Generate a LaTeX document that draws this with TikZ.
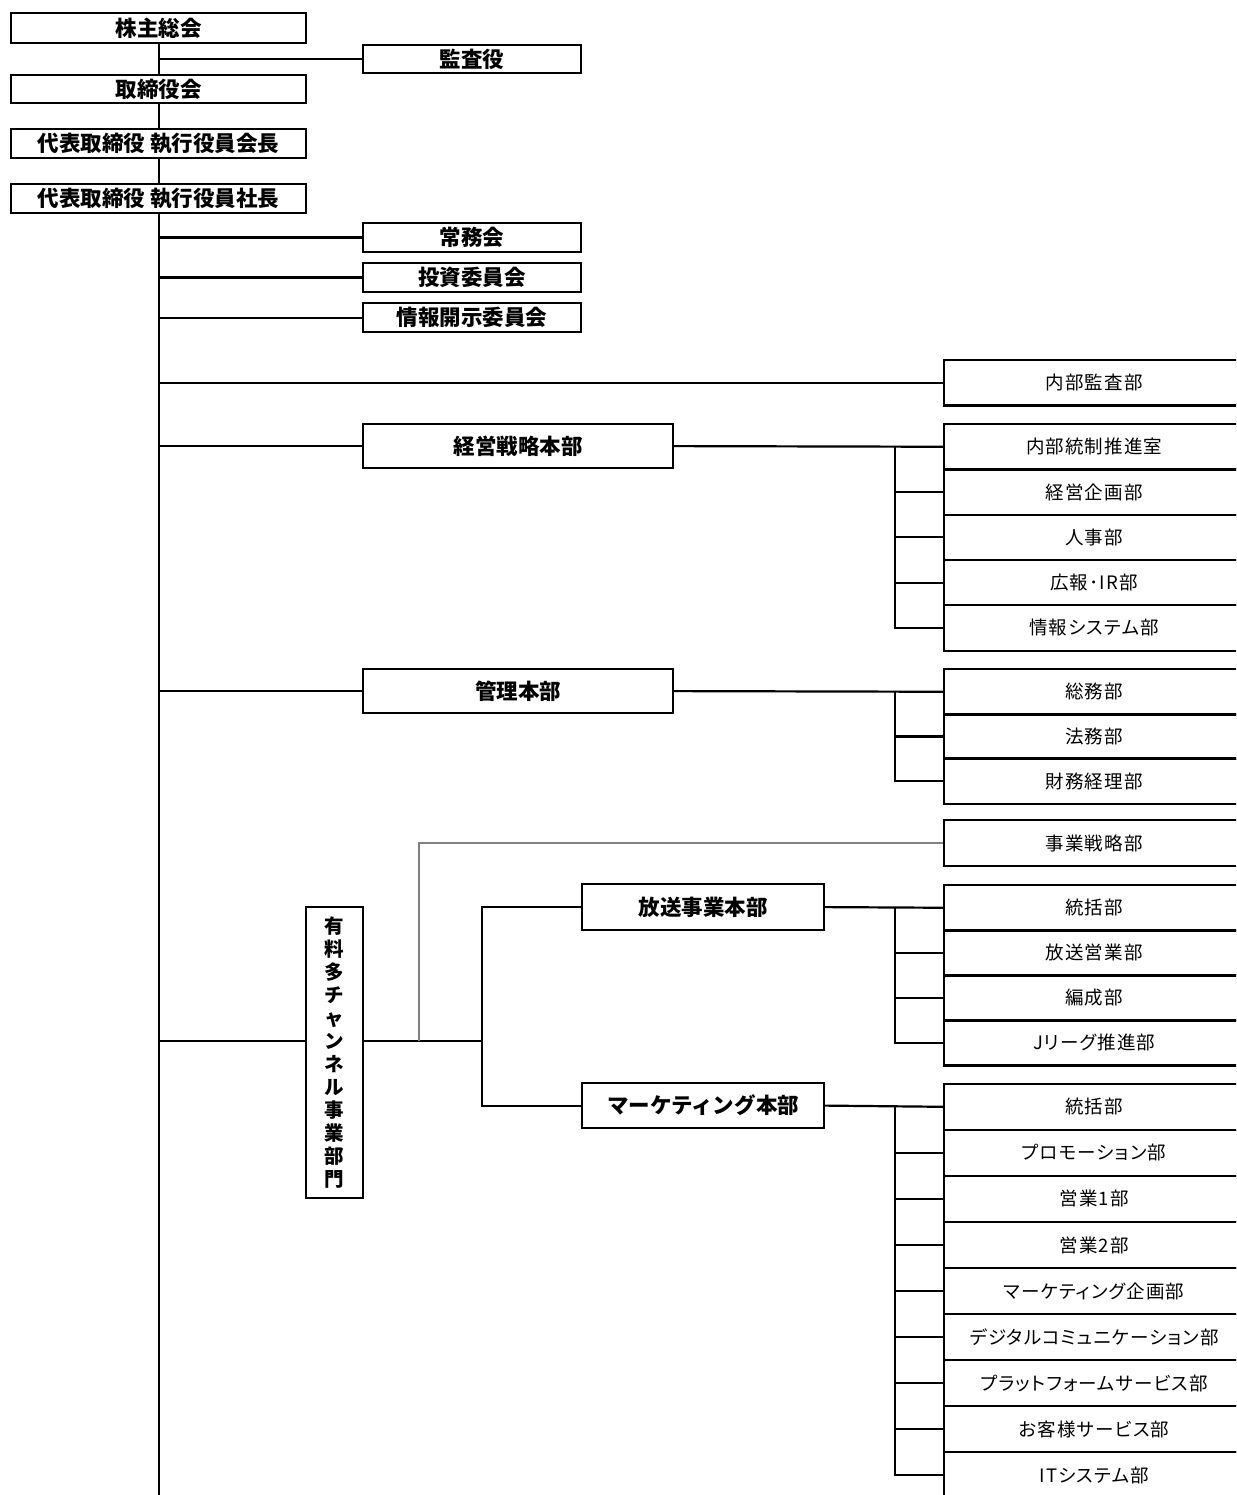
\documentclass[tikz,border=0pt]{standalone}
\usepackage{fontspec}
\setmainfont{Noto Sans CJK JP}
\newfontfamily\deptfont{Noto Sans CJK JP}[RawFeature=+palt,LetterSpace=6]
\usetikzlibrary{positioning,calc}

\begin{document}
\begin{tikzpicture}[x=1pt,y=-1pt,
  box/.style={draw,line width=2.2pt,inner sep=0pt,anchor=north west,
    font=\bfseries\fontsize{21.5}{21.5}\selectfont},
  dept/.style={draw,line width=2.2pt,inner sep=0pt,anchor=north west,
    minimum width=300pt,minimum height=45.3pt,font=\deptfont\fontsize{18.5}{18.5}\selectfont},
  link/.style={line width=2.2pt},
  thin link/.style={line width=1.4pt,gray}]
  \useasboundingbox (0,0) rectangle (1236,1495);
  \clip (0,0) rectangle (1236,1495);

  % top of the chart
  \node[box,minimum width=295pt,minimum height=30pt] (kabunushi) at (10,12) {株主総会};
  \node[box,minimum width=218pt,minimum height=28pt] (kansayaku) at (362,44) {監査役};
  \node[box,minimum width=295pt,minimum height=28pt] (torishimari) at (10,74) {取締役会};
  \node[box,minimum width=295pt,minimum height=29pt] (kaicho) at (10,128) {代表取締役 執行役員会長};
  \node[box,minimum width=295pt,minimum height=29pt] (shacho) at (10,183) {代表取締役 執行役員社長};
  \node[box,minimum width=218pt,minimum height=29pt] (jomu) at (362,222) {常務会};
  \node[box,minimum width=218pt,minimum height=29pt] (toshi) at (362,262) {投資委員会};
  \node[box,minimum width=218pt,minimum height=29pt] (joho) at (362,302) {情報開示委員会};

  \node[dept] (naibu) at (943,359) {内部監査部};

  % headquarters
  \node[box,minimum width=310pt,minimum height=44pt] (keiei) at (362,423) {経営戦略本部};
  \node[box,minimum width=310pt,minimum height=44pt] (kanri) at (362,668) {管理本部};
  \foreach \t [count=\i from 0] in {内部統制推進室,経営企画部,人事部,広報･IR部,情報システム部}
    \node[dept] (ks\i) at (943,423+45.3*\i) {\t};
  \foreach \t [count=\i from 0] in {総務部,法務部,財務経理部}
    \node[dept] (kr\i) at (943,668+44.7*\i) {\t};

  % business division
  \node[box,minimum width=57pt,minimum height=291pt,align=center,
    font=\bfseries\fontsize{19.5}{23}\selectfont] (yuryo) at (305,906)
    {有\\料\\多\\チ\\ャ\\ン\\ネ\\ル\\事\\業\\部\\門};
  \node[dept,minimum height=46pt] (jigyo) at (943,819) {事業戦略部};
  \node[box,minimum width=242pt,minimum height=46pt] (hoso) at (581,883) {放送事業本部};
  \node[box,minimum width=242pt,minimum height=45pt] (mkt) at (581,1082) {マーケティング本部};
  \foreach \t [count=\i from 0] in {統括部,放送営業部,編成部,Jリーグ推進部}
    \node[dept] (hs\i) at (943,884+45*\i) {\t};
  \foreach \t [count=\i from 0] in {統括部,プロモーション部,営業1部,営業2部,マーケティング企画部,
      デジタルコミュニケーション部,プラットフォームサービス部,お客様サービス部,ITシステム部}
    \node[dept,minimum height=46pt] (mk\i) at (943,1082.7+46.05*\i) {\t};

  % main line
  \coordinate (spine) at (895,0);
  \coordinate (yfork) at (482,1041);
  \coordinate (gfork) at (419,1041);
  \draw[link] (kabunushi) -- (torishimari);
  \draw[link] (torishimari) -- (kaicho);
  \draw[link] (kaicho) -- (shacho);
  \draw[link] (shacho.south) -- (shacho.south |- 0,1510);
  \foreach \n in {kansayaku,jomu,toshi,joho,naibu,keiei,kanri}
    \draw[link] (\n.west) -- (\n.west -| kabunushi.south);

  % brackets to departments
  \draw[link] (keiei.east) -- (ks0.west);
  \draw[link] (ks0.west -| spine) |- (ks4.west);
  \foreach \i in {1,2,3} \draw[link] (ks\i.west -| spine) -- (ks\i.west);
  \draw[link] (kanri.east) -- (kr0.west);
  \draw[link] (kr0.west -| spine) |- (kr2.west);
  \draw[link] (kr1.west -| spine) -- (kr1.west);
  \draw[link] (hoso.east) -- (hs0.west);
  \draw[link] (hs0.west -| spine) |- (hs3.west);
  \foreach \i in {1,2} \draw[link] (hs\i.west -| spine) -- (hs\i.west);
  \draw[link] (mkt.east) -- (mk0.west);
  \draw[link] (mk0.west -| spine) |- (mk8.west);
  \foreach \i in {1,...,7} \draw[link] (mk\i.west -| spine) -- (mk\i.west);

  % business division links
  \draw[link] (kabunushi.south |- yfork) -- (yuryo.west |- yfork);
  \draw[link] (yuryo.east |- yfork) -- (yfork);
  \draw[link] (hoso.west) -| (yfork) |- (mkt.west);
  \draw[thin link] (gfork) |- (jigyo.west);
\end{tikzpicture}
\end{document}
